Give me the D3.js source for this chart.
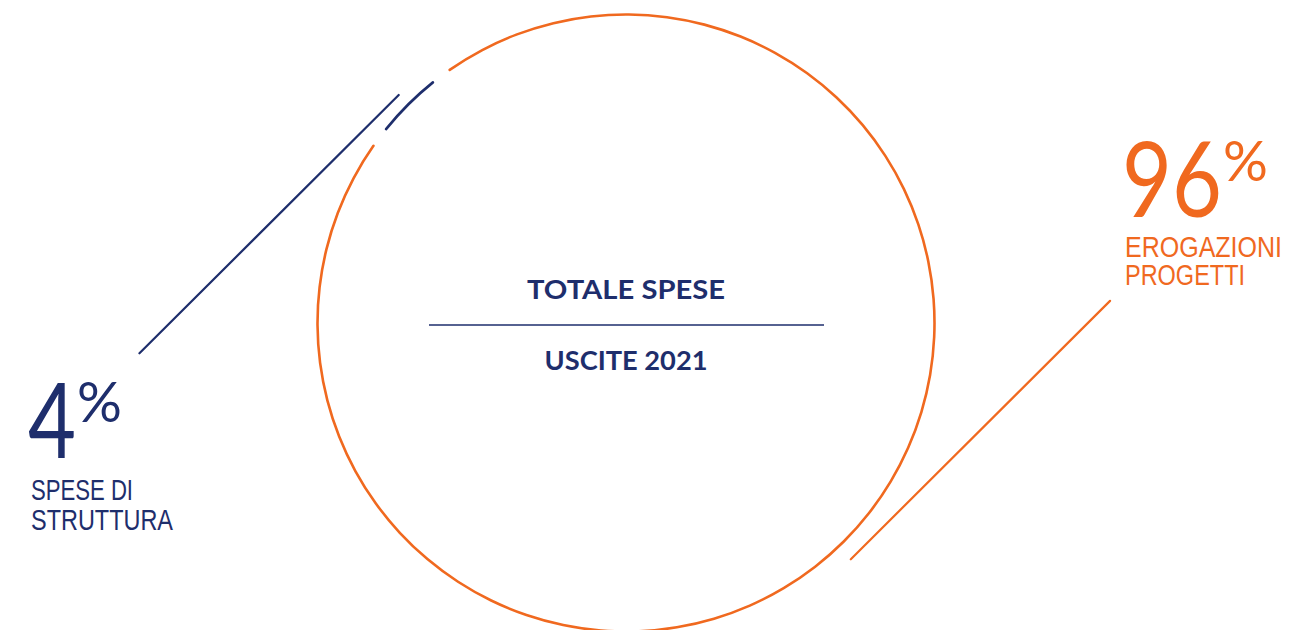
<!DOCTYPE html>
<html>
<head>
<meta charset="utf-8">
<script src="https://d3js.org/d3.v7.min.js"></script>
<title>Uscite 2021</title>
<style>
body { margin: 0; background: #fff; }
svg { display: block; }
</style>
</head>
<body>
<svg width="1313" height="630"></svg>
<script>

// data
let captionLines = [["EROGAZIONI", "PROGETTI"], ["SPESE DI", "STRUTTURA"]];
let values = [96, 4];
let colors = ["#f0691f", "#1e2e6c"];
let titleTop = "TOTALE SPESE";
let titleBottom = "USCITE 2021";

let navy = "#1e2e6c";
let cx = 626, cy = 323, radius = 308.5;
let start = -0.658;
let svg = d3.select("svg");

let pie = d3.pie()
  .sort(null)
  .value(d => d)
  .startAngle(start)
  .endAngle(start + 2 * Math.PI);

// gaps around the small slice: orange trimmed more than blue
let pads = [0.091, 0.028];

let arc = d3.arc()
  .innerRadius(radius - 1.3)
  .outerRadius(radius + 1.3)
  .padRadius(radius)
  .padAngle(d => pads[d.index])
  .cornerRadius(1.3);

let slices = pie(values);

let g = svg.append("g").attr("transform", "translate(" + cx + "," + cy + ")");

g.selectAll("path")
  .data(slices)
  .enter().append("path")
  .attr("d", arc)
  .attr("fill", (d, i) => colors[i]);

// leader lines, tangent to the ring at the middle of each slice
let lineOff = [326, 322];   // distance from centre
let lineShift = [-7.5, 0];  // slide along the tangent
let lineLen = 366;

function leader(d, i) {
  let a = (d.startAngle + d.endAngle) / 2;
  let r = lineOff[i];
  let px = r * Math.sin(a), py = -r * Math.cos(a);
  let dx = -Math.cos(a), dy = -Math.sin(a);
  let x1 = px + lineShift[i] * dx, y1 = py + lineShift[i] * dy;
  return [x1, y1, x1 + lineLen * dx, y1 + lineLen * dy];
}

g.selectAll("line.leader")
  .data(slices)
  .enter().append("line")
  .attr("class", "leader")
  .attr("x1", (d, i) => leader(d, i)[0])
  .attr("y1", (d, i) => leader(d, i)[1])
  .attr("x2", (d, i) => leader(d, i)[2])
  .attr("y2", (d, i) => leader(d, i)[3])
  .attr("stroke", (d, i) => colors[i])
  .attr("stroke-width", 2.2)
  .attr("stroke-linecap", "round");

// labels: big number with raised %, then a two-line caption
let labelPos = [
  {x: 1122, numBase: 217, numW: 100, capBase: [257, 285], capW: [157, 120]},
  {x: 28, numBase: 458, numW: 48, capBase: [500, 530], capW: [102, 142]}
];

slices.forEach(function(d, i) {
  let p = labelPos[i];
  let t = svg.append("text")
    .attr("x", p.x)
    .attr("y", p.numBase)
    .attr("fill", colors[i]);
  t.append("tspan")
    .attr("font-family", "Lato, 'Open Sans', sans-serif")
    .attr("font-weight", 400)
    .attr("font-size", 104)
    .attr("textLength", p.numW)
    .attr("lengthAdjust", "spacingAndGlyphs")
    .text(values[i]);
  t.append("tspan")
    .attr("dx", 1)
    .attr("dy", -36)
    .attr("font-family", "Lato, 'Open Sans', sans-serif")
    .attr("font-weight", 400)
    .attr("font-size", 56)
    .text("%");
  captionLines[i].forEach(function(line, j) {
    t.append("tspan")
      .attr("x", p.x + 3)
      .attr("y", p.capBase[j])
      .attr("font-family", "'Liberation Sans Narrow', 'Liberation Sans', sans-serif")
      .attr("font-size", 29.5)
      .attr("textLength", p.capW[j])
      .attr("lengthAdjust", "spacingAndGlyphs")
      .text(line);
  });
});

// centre title
svg.append("text")
  .attr("x", cx)
  .attr("y", 299)
  .attr("text-anchor", "middle")
  .attr("font-family", "Lato, sans-serif")
  .attr("font-weight", 700)
  .attr("font-size", 27)
  .attr("fill", navy)
  .attr("textLength", 198)
  .attr("lengthAdjust", "spacingAndGlyphs")
  .text(titleTop);

svg.append("line")
  .attr("x1", 429)
  .attr("x2", 824)
  .attr("y1", 325)
  .attr("y2", 325)
  .attr("stroke", navy)
  .attr("stroke-width", 1.6);

svg.append("text")
  .attr("x", cx)
  .attr("y", 370)
  .attr("text-anchor", "middle")
  .attr("font-family", "Lato, sans-serif")
  .attr("font-weight", 700)
  .attr("font-size", 27)
  .attr("fill", navy)
  .attr("textLength", 163)
  .attr("lengthAdjust", "spacingAndGlyphs")
  .text(titleBottom);

</script>
</body>
</html>
